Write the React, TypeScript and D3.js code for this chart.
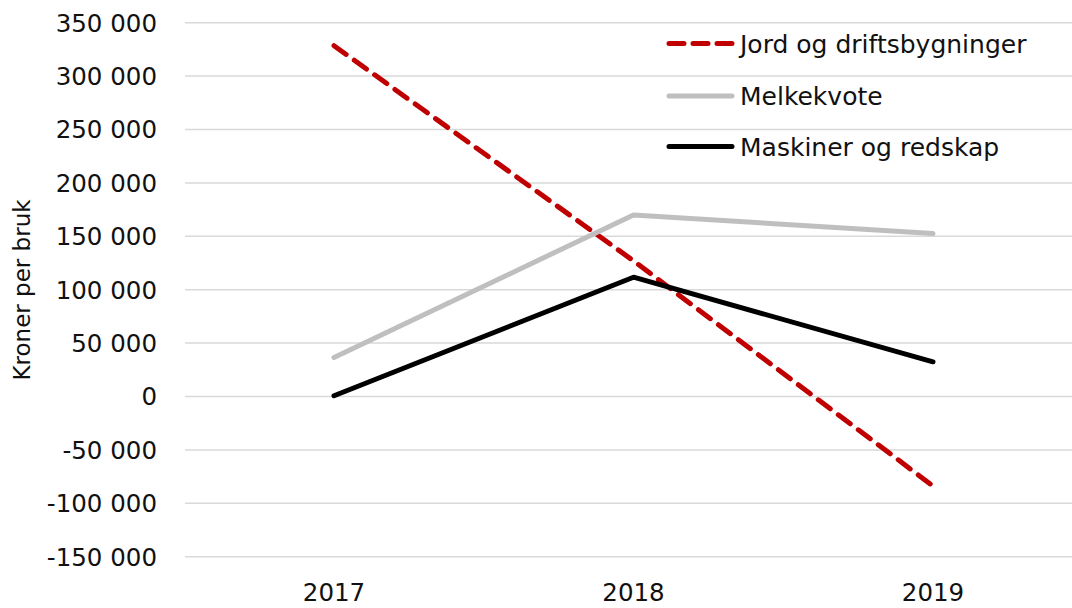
import * as d3 from 'd3'
import { useEffect, useRef } from 'react'

// values (kroner per bruk)
const years = ['2017', '2018', '2019']
const jord = [328500, 127000, -83800]
const melkekvote = [36500, 170000, 152600]
const maskiner = [700, 111700, 32500]
const yTicks = [-150000, -100000, -50000, 0, 50000, 100000, 150000, 200000, 250000, 300000, 350000]

const series = [
  { name: 'Jord og driftsbygninger', values: jord, color: '#C00000', dash: '15 10' },
  { name: 'Melkekvote', values: melkekvote, color: '#BFBFBF', dash: null },
  { name: 'Maskiner og redskap', values: maskiner, color: '#000000', dash: null },
]

const fmt = (v: number) => {
  const s = d3.format(',')(Math.abs(v)).replace(/,/g, ' ')
  return v < 0 ? '-' + s : s
}

export default function App() {
  const ref = useRef<SVGSVGElement>(null)

  useEffect(() => {
    const svg = d3.select(ref.current)
    svg.selectAll('*').remove()
    const width = 1072
    const font = 'DejaVu Sans, sans-serif'

    const x = d3.scalePoint().domain(years).range([334, 933])
    const y = d3.scaleLinear().domain([-150000, 350000]).range([556.7, 22.7])

    // grid
    svg.append('g')
      .selectAll('line')
      .data(yTicks)
      .join('line')
      .attr('x1', 185)
      .attr('x2', width)
      .attr('y1', (d) => y(d))
      .attr('y2', (d) => y(d))
      .attr('stroke', '#D9D9D9')
      .attr('stroke-width', 1.5)

    // y axis labels
    svg.append('g')
      .selectAll('text')
      .data(yTicks)
      .join('text')
      .attr('x', 157)
      .attr('y', (d) => y(d))
      .attr('dy', '0.36em')
      .attr('text-anchor', 'end')
      .attr('font-family', font)
      .attr('font-size', 24.5)
      .attr('fill', '#111')
      .text((d) => fmt(d))

    // x axis labels
    svg.append('g')
      .selectAll('text')
      .data(years)
      .join('text')
      .attr('x', (d) => x(d)!)
      .attr('y', 592)
      .attr('dy', '0.36em')
      .attr('text-anchor', 'middle')
      .attr('font-family', font)
      .attr('font-size', 24.5)
      .attr('fill', '#111')
      .text((d) => d)

    // y title
    svg.append('text')
      .attr('transform', `translate(22,290) rotate(-90)`)
      .attr('dy', '0.36em')
      .attr('text-anchor', 'middle')
      .attr('font-family', font)
      .attr('font-size', 23)
      .attr('fill', '#111')
      .text('Kroner per bruk')

    const line = d3.line<number>()
      .x((_, i) => x(years[i])!)
      .y((d) => y(d))

    svg.append('g')
      .selectAll('path')
      .data(series)
      .join('path')
      .attr('d', (s) => line(s.values))
      .attr('fill', 'none')
      .attr('stroke', (s) => s.color)
      .attr('stroke-width', 5)
      .attr('stroke-linecap', 'round')
      .attr('stroke-linejoin', 'round')
      .attr('stroke-dasharray', (s) => s.dash)

    // legend
    const legendY = [43.5, 96, 146.5]
    const lg = svg.append('g')
      .selectAll('g')
      .data(series)
      .join('g')
      .attr('transform', (_, i) => `translate(0,${legendY[i]})`)
    lg.append('line')
      .attr('x1', 669)
      .attr('x2', 732)
      .attr('stroke', (s) => s.color)
      .attr('stroke-width', 5)
      .attr('stroke-linecap', 'round')
      .attr('stroke-dasharray', (s) => (s.dash ? '15 9' : null))
    lg.append('text')
      .attr('x', 740)
      .attr('dy', '0.36em')
      .attr('font-family', font)
      .attr('font-size', 25)
      .attr('fill', '#111')
      .text((s) => s.name)
  }, [])

  return (
    <svg
      ref={ref}
      width={1072}
      height={608}
      style={{ position: 'absolute', left: 0, top: 0, background: '#fff' }}
    />
  )
}
